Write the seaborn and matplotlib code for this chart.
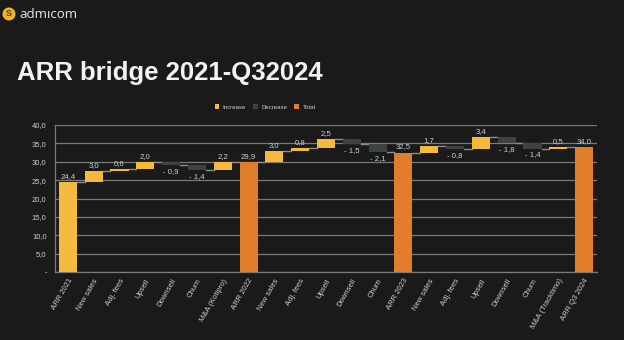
import matplotlib
matplotlib.use("Agg")
import matplotlib.pyplot as plt
import seaborn as sns
import pandas as pd
from matplotlib.patches import Patch, Ellipse
from matplotlib.ticker import FuncFormatter

categories = ["ARR 2021", "New sales", "Adj. fees", "Upsell", "Downsell", "Churn", "M&A (Kotipro)",
              "ARR 2022", "New sales", "Adj. fees", "Upsell", "Downsell", "Churn",
              "ARR 2023", "New sales", "Adj. fees", "Upsell", "Downsell", "Churn", "M&A (Tracktimo)",
              "ARR Q3 2024"]
values = [24.4, 3.0, 0.6, 2.0, -0.9, -1.4, 2.2,
          29.9, 3.0, 0.8, 2.5, -1.5, -2.1,
          32.5, 1.7, -0.8, 3.4, -1.8, -1.4, 0.5,
          34.0]
kinds = ["Increase", "Increase", "Increase", "Increase", "Decrease", "Decrease", "Increase",
         "Total", "Increase", "Increase", "Increase", "Decrease", "Decrease",
         "Total", "Increase", "Decrease", "Increase", "Decrease", "Decrease", "Increase",
         "Total"]
legend_labels = ["Increase", "Decrease", "Total"]
yticks = [0, 5, 10, 15, 20, 25, 30, 35, 40]

BG = "#1a1a1a"
COLORS = {"Increase": "#f5ba3d", "Decrease": "#3d4343", "Total": "#e07e2c"}
TXT = "#cfcfcf"
GRID = "#7a7a7a"

# running totals for the waterfall
bottoms, ends = [], []
running = 0.0
for v, k in zip(values, kinds):
    if k == "Total":
        bottoms.append(0.0)
        running = v
    else:
        bottoms.append(running)
        running += v
    ends.append(running)

df = pd.DataFrame({"pos": list(range(len(categories))), "value": values,
                   "bottom": bottoms, "kind": kinds})

plt.rcParams["font.family"] = ["Liberation Sans", "DejaVu Sans"]
fig = plt.figure(figsize=(6.24, 3.4), dpi=100, facecolor=BG)
ax = fig.add_axes([55 / 624, 68 / 340, 542 / 624, 147 / 340])
ax.set_facecolor(BG)

sns.barplot(data=df, x="pos", y="value", bottom=df["bottom"].values, width=0.7,
            color=COLORS["Increase"], ax=ax, linewidth=0, errorbar=None)
for patch, k in zip(ax.patches, kinds):
    patch.set_facecolor(COLORS[k])
    patch.set_zorder(3)

# connectors
w = 0.7
for i in range(len(values) - 1):
    ax.plot([i + w / 2, i + 1 - w / 2], [ends[i], ends[i]], color="#8c8c8c", lw=1.0, zorder=2)

# data labels
def fmt(v):
    s = f"{abs(v):.1f}".replace(".", ",")
    return f"- {s}" if v < 0 else s

for i, (v, b, k) in enumerate(zip(values, bottoms, kinds)):
    if k == "Decrease":
        ax.annotate(fmt(v), (i, b + v), xytext=(0, -2), textcoords="offset points",
                    ha="center", va="top", fontsize=5.6, color=TXT, zorder=5)
    else:
        ax.annotate(fmt(v), (i, b + v), xytext=(0, 1.5), textcoords="offset points",
                    ha="center", va="bottom", fontsize=5.6, color=TXT, zorder=5)

ax.set_ylim(0, 40)
ax.set_xlim(-0.5, len(values) - 0.5)
ax.set_yticks(yticks)
ax.yaxis.set_major_formatter(FuncFormatter(lambda y, p: "-" if y == 0 else f"{y:.1f}".replace(".", ",")))
ax.set_xticks(range(len(categories)))
ax.set_xticklabels(categories, rotation=60, ha="right", rotation_mode="anchor")
ax.tick_params(axis="both", length=0, colors=TXT, labelsize=5.5)
ax.tick_params(axis="x", pad=4)
ax.tick_params(axis="y", pad=6)
ax.set_xlabel("")
ax.set_ylabel("")
ax.yaxis.grid(True, color=GRID, lw=0.9, zorder=0)
ax.set_axisbelow(True)
for s in ["top", "right"]:
    ax.spines[s].set_visible(False)
for s in ["left", "bottom"]:
    ax.spines[s].set_color(GRID)
    ax.spines[s].set_linewidth(0.9)

handles = [Patch(facecolor=COLORS[k], label=k) for k in legend_labels]
fig.legend(handles=handles, loc="center", bbox_to_anchor=(265 / 624, 1 - 107 / 340), ncol=3,
           frameon=False, fontsize=4.4, labelcolor=TXT, handlelength=0.8, handleheight=0.9,
           handletextpad=0.5, columnspacing=1.2)

fig.text(17 / 624, 1 - 73 / 340, "ARR bridge 2021-Q32024", fontsize=18.5, fontweight="bold",
         color="#f2f2f2", va="center", ha="left")
fig.add_artist(Ellipse((9 / 624, 1 - 14 / 340), 13 / 624, 13 / 340, transform=fig.transFigure,
                       facecolor="#f0b429", edgecolor="none"))
fig.text(9 / 624, 1 - 14 / 340, "S", fontsize=6.5, fontweight="bold", color="#5a4000",
         ha="center", va="center")
fig.text(19 / 624, 1 - 14.5 / 340, "admıcom", fontsize=9.5, color="#e8e8e8",
         ha="left", va="center", family=["Open Sans", "DejaVu Sans"])

fig.savefig("out.png", dpi=100, facecolor=BG)
